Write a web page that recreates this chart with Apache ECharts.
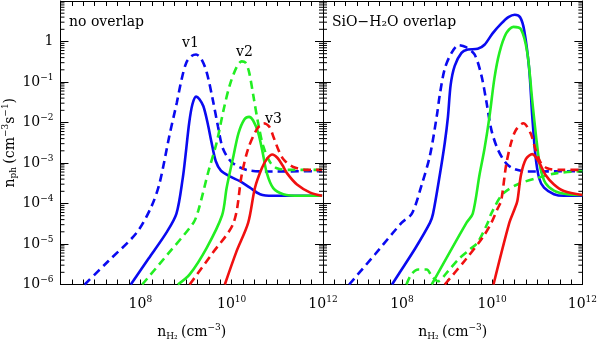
<!DOCTYPE html>
<html>
<head>
<meta charset="utf-8">
<script src="https://cdn.jsdelivr.net/npm/echarts@6/dist/echarts.min.js"></script>
<style>
  html, body { margin: 0; padding: 0; background: #fff; }
  #chart { width: 600px; height: 346px; }
</style>
</head>
<body>
<div id="chart"></div>
<script>
// all values are log10: [log n(H2), log n_ph]
// tick labels
const xTickExp = [8, 10, 12];
const yTickExp = [0, -1, -2, -3, -4, -5, -6];

// left panel: no overlap
const noBlueDash = [[6.78,-6],[7.3,-5.42],[7.92,-4.72],[8.24,-4.08],[8.42,-3.5],[8.64,-2.3],[8.8,-1.5],[8.9,-0.95],[9.01,-0.51],[9.12,-0.36],[9.22,-0.32],[9.33,-0.42],[9.45,-0.75],[9.59,-1.46],[9.7,-2.1],[9.81,-2.65],[10.0,-2.98],[10.33,-3.17],[10.77,-3.21],[11.98,-3.2]];
const noBlueSolid = [[7.79,-6],[8.18,-5.36],[8.57,-4.72],[8.79,-4.25],[8.93,-3.36],[8.99,-2.8],[9.07,-2.0],[9.14,-1.55],[9.22,-1.36],[9.29,-1.42],[9.38,-1.6],[9.47,-2.0],[9.56,-2.5],[9.65,-2.95],[9.76,-3.18],[9.96,-3.33],[10.18,-3.45],[10.4,-3.61],[10.62,-3.77],[10.9,-3.81],[11.98,-3.81]];
const noGreenDash = [[8.04,-6],[8.6,-5.25],[9.16,-4.48],[9.27,-4.17],[9.49,-3.21],[9.67,-2.5],[9.82,-1.7],[9.96,-1.07],[10.11,-0.63],[10.22,-0.49],[10.3,-0.52],[10.38,-0.75],[10.47,-1.31],[10.58,-2.02],[10.69,-2.58],[10.84,-2.98],[10.99,-3.13],[11.28,-3.17],[11.98,-3.17]];
const noGreenSolid = [[8.82,-6],[9.08,-5.75],[9.45,-5.1],[9.79,-4.29],[9.89,-3.61],[10.04,-2.82],[10.15,-2.26],[10.28,-1.92],[10.38,-1.86],[10.47,-1.95],[10.58,-2.25],[10.68,-2.75],[10.77,-3.25],[10.91,-3.62],[11.13,-3.77],[11.5,-3.81],[11.98,-3.81]];
const noRedDash = [[9.08,-6],[9.57,-5.24],[10.04,-4.48],[10.22,-3.29],[10.36,-2.65],[10.55,-2.17],[10.7,-2.02],[10.82,-2.1],[10.93,-2.4],[11.04,-2.72],[11.15,-2.93],[11.35,-3.1],[11.65,-3.17],[11.98,-3.17]];
const noRedSolid = [[9.85,-6],[10.1,-5.2],[10.36,-4.48],[10.51,-3.61],[10.66,-3.13],[10.77,-2.9],[10.89,-2.79],[11.0,-2.87],[11.11,-3.05],[11.21,-3.25],[11.43,-3.53],[11.72,-3.73],[11.98,-3.81]];

// right panel: SiO-H2O overlap
const ovBlueDash = [[6.83,-6],[7.4,-5.26],[7.99,-4.48],[8.22,-4.25],[8.44,-3.53],[8.62,-2.82],[8.77,-1.86],[8.84,-1.31],[8.95,-0.67],[9.1,-0.28],[9.26,-0.09],[9.42,-0.14],[9.61,-0.32],[9.76,-0.83],[9.87,-1.47],[9.98,-2.17],[10.12,-2.65],[10.31,-3.01],[10.49,-3.15],[10.78,-3.21],[12,-3.2]];
const ovBlueSolid = [[7.78,-6],[7.93,-5.74],[8.3,-5.1],[8.62,-4.48],[8.69,-4.25],[8.84,-3.29],[8.95,-2.5],[9.02,-1.86],[9.08,-1.07],[9.17,-0.6],[9.32,-0.28],[9.46,-0.2],[9.68,-0.18],[9.83,-0.08],[10.01,0.2],[10.2,0.44],[10.36,0.6],[10.5,0.66],[10.62,0.6],[10.71,0.28],[10.82,-0.67],[10.89,-1.86],[10.96,-2.82],[11.04,-3.37],[11.15,-3.61],[11.37,-3.77],[11.59,-3.81],[12,-3.81]];
const ovGreenDash = [[8.1,-6],[8.21,-5.75],[8.36,-5.63],[8.55,-5.63],[8.66,-5.79],[8.8,-5.92],[9.0,-5.7],[9.25,-5.38],[9.5,-5.14],[9.68,-4.96],[9.9,-4.48],[9.98,-4.25],[10.23,-3.77],[10.56,-3.53],[11.0,-3.37],[11.44,-3.25],[12,-3.2]];
const ovGreenSolid = [[8.66,-6],[9.43,-4.48],[9.57,-4.25],[9.72,-3.29],[9.83,-2.65],[9.94,-1.86],[10.05,-0.91],[10.16,-0.28],[10.31,0.2],[10.47,0.36],[10.64,0.3],[10.78,-0.28],[10.89,-1.47],[10.99,-2.5],[11.07,-3.13],[11.18,-3.49],[11.37,-3.68],[11.66,-3.77],[12,-3.79]];
const ovRedDash = [[8.95,-6],[9.4,-5.4],[9.79,-4.84],[9.98,-4.48],[10.12,-4.13],[10.2,-3.93],[10.31,-3.05],[10.42,-2.5],[10.53,-2.18],[10.69,-2.02],[10.85,-2.26],[10.96,-2.66],[11.07,-2.98],[11.22,-3.13],[11.51,-3.17],[12,-3.17]];
const ovRedSolid = [[10.03,-6],[10.38,-4.48],[10.5,-4.13],[10.56,-3.93],[10.64,-3.29],[10.75,-2.9],[10.89,-2.78],[11.04,-2.98],[11.18,-3.29],[11.37,-3.53],[11.59,-3.69],[12,-3.79]];

const X_MIN = 6.25, X_MAX = 12, Y_MIN = -6, Y_MAX = 1;
const BLUE = '#0a0af0', GREEN = '#22ee22', RED = '#f01010';
const FONT = 'DejaVu Serif';

const chart = echarts.init(document.getElementById('chart'));

const rich = {
  b: { fontFamily: FONT, fontSize: 14, color: '#000' },
  s: { fontFamily: FONT, fontSize: 9, color: '#000', padding: [0, 0, 9, 0] }
};

function xLabel(v) {
  const e = Math.round(v * 100) / 100;
  if (xTickExp.indexOf(e) < 0) return '';
  return '{b|10}{s|' + e + '}';
}
function yLabel(v) {
  if (yTickExp.indexOf(v) < 0) return '';
  if (v === 0) return '{b|1}';
  return '{b|10}{s|\u2212' + (-v) + '}';
}

// minor log ticks on y (2..9 x 10^k)
const minorY = [];
for (let k = Y_MIN; k < Y_MAX; k++) {
  for (let m = 2; m <= 9; m++) minorY.push(k + Math.log10(m));
}

const xName = '{b|n}{sub|H\u2082} {b|(cm}{s|\u22123}{b|)}';
const nameRich = Object.assign({}, rich, {
  sub: { fontFamily: FONT, fontSize: 9, color: '#000', padding: [8, 0, 0, 0] }
});

function makeX(gi, bottom) {
  return {
    type: 'value', gridIndex: gi, min: X_MIN, max: X_MAX, interval: 0.25,
    position: bottom ? 'bottom' : 'top',
    axisLine: { show: true, onZero: false, lineStyle: { color: '#000', width: 1 } },
    axisTick: { show: true, inside: true, length: 5, lineStyle: { color: '#000' } },
    axisLabel: bottom ? { show: true, formatter: xLabel, rich: rich, margin: 11, showMaxLabel: true, showMinLabel: false, hideOverlap: false } : { show: false },
    splitLine: { show: false },
    name: bottom ? xName : '',
    nameLocation: 'middle', nameGap: 39,
    nameTextStyle: { rich: nameRich }
  };
}
function makeY(gi, left, labels) {
  return {
    type: 'value', gridIndex: gi, min: Y_MIN, max: Y_MAX, interval: 1,
    position: left ? 'left' : 'right',
    axisLine: { show: true, onZero: false, lineStyle: { color: '#000', width: 1 } },
    axisTick: { show: true, inside: true, length: 8, lineStyle: { color: '#000' } },
    axisLabel: labels ? { show: true, formatter: yLabel, rich: rich, margin: 7 } : { show: false },
    splitLine: { show: false },
    name: labels ? '{b|n}{sub|ph} {b|(cm}{s|\u22123}{b|s}{s|\u22121}{b|)}' : '',
    nameLocation: 'middle', nameGap: 36, nameRotate: 90,
    nameTextStyle: { rich: nameRich }
  };
}

function lineSeries(gi, data, color, dashed) {
  return {
    type: 'line', xAxisIndex: gi * 2, yAxisIndex: gi * 2, data: data,
    showSymbol: false, symbol: 'none', smooth: 0.3, clip: true,
    lineStyle: { color: color, width: 2.6, type: dashed ? [8, 5] : 'solid' },
    silent: true
  };
}

function minorTicks(gi) {
  const data = [];
  minorY.forEach(v => { data.push([X_MIN, v, 1]); data.push([X_MAX, v, -1]); });
  return {
    type: 'custom', xAxisIndex: gi * 2, yAxisIndex: gi * 2, data: data, silent: true, z: 10,
    renderItem: function (params, api) {
      const p = api.coord([api.value(0), api.value(1)]);
      const d = api.value(2);
      return { type: 'line', shape: { x1: p[0], y1: p[1], x2: p[0] + d * 4, y2: p[1] },
        style: { stroke: '#000', lineWidth: 1 } };
    }
  };
}

const option = {
  backgroundColor: '#fff',
  animation: false,
  grid: [
    { left: 60, top: 1, width: 263, height: 293 },
    { left: 323, top: 1, width: 263, height: 293 }
  ],
  xAxis: [makeX(0, true), makeX(0, false), makeX(1, true), makeX(1, false)],
  yAxis: [makeY(0, true, true), makeY(0, false, false), makeY(1, true, false), makeY(1, false, false)],
  series: [
    lineSeries(0, noBlueDash, BLUE, true),
    lineSeries(0, noBlueSolid, BLUE, false),
    lineSeries(0, noGreenDash, GREEN, true),
    lineSeries(0, noGreenSolid, GREEN, false),
    lineSeries(0, noRedDash, RED, true),
    lineSeries(0, noRedSolid, RED, false),
    lineSeries(1, ovBlueDash, BLUE, true),
    lineSeries(1, ovBlueSolid, BLUE, false),
    lineSeries(1, ovGreenDash, GREEN, true),
    lineSeries(1, ovGreenSolid, GREEN, false),
    lineSeries(1, ovRedDash, RED, true),
    lineSeries(1, ovRedSolid, RED, false),
    minorTicks(0),
    minorTicks(1)
  ],
  graphic: [
    { type: 'text', left: 69, top: 15, style: { text: 'no overlap', font: '14px ' + FONT, fill: '#000' } },
    { type: 'text', left: 332, top: 15, style: { text: 'SiO\u2212H\u2082O overlap', font: '14px ' + FONT, fill: '#000' } },
    { type: 'text', left: 182, top: 36, style: { text: 'v1', font: '14px ' + FONT, fill: '#000' } },
    { type: 'text', left: 236, top: 45, style: { text: 'v2', font: '14px ' + FONT, fill: '#000' } },
    { type: 'text', left: 265, top: 112, style: { text: 'v3', font: '14px ' + FONT, fill: '#000' } }
  ]
};

chart.setOption(option);
</script>
</body>
</html>
